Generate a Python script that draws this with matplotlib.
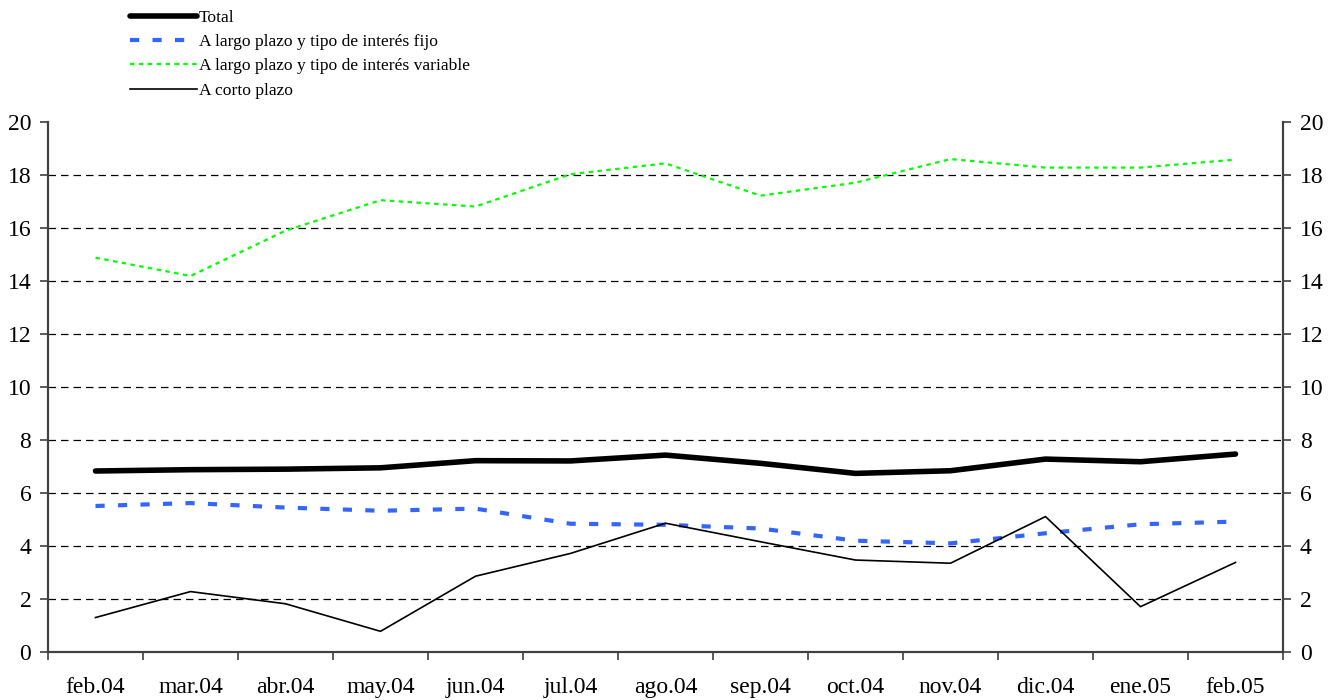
import numpy as np
import matplotlib.pyplot as plt

plt.rcParams['font.family'] = ['Liberation Serif', 'DejaVu Serif']

meses = ['feb.04', 'mar.04', 'abr.04', 'may.04', 'jun.04', 'jul.04', 'ago.04',
         'sep.04', 'oct.04', 'nov.04', 'dic.04', 'ene.05', 'feb.05']
total = [6.83, 6.88, 6.90, 6.95, 7.22, 7.21, 7.43, 7.12, 6.74, 6.84, 7.28, 7.18, 7.47]
largo_fijo = [5.51, 5.62, 5.45, 5.33, 5.41, 4.84, 4.80, 4.66, 4.20, 4.10, 4.48, 4.82, 4.92]
largo_variable = [14.88, 14.19, 15.90, 17.05, 16.81, 18.03, 18.44, 17.22, 17.71, 18.60, 18.28, 18.28, 18.58]
corto = [1.30, 2.28, 1.82, 0.78, 2.86, 3.72, 4.86, 4.16, 3.47, 3.35, 5.11, 1.71, 3.38]

x = np.arange(len(meses))
spine_col = '#404040'
fs = 17

fig = plt.figure(figsize=(13.39, 7.0), dpi=100)
ax = fig.add_axes([48 / 1339, 48 / 700, (1283 - 48) / 1339, (652 - 122) / 700])

# gridlines first, under the series
for yv in range(2, 20, 2):
    ax.axhline(yv, color='black', linestyle=(0, (6, 4)), linewidth=0.9, zorder=1)

ax.plot(x, total, color='black', linewidth=4, solid_capstyle='round', label='Total', zorder=3)
ax.plot(x, largo_fijo, color='#3366FF', linewidth=3, dashes=(2.2, 3.2),
        label='A largo plazo y tipo de interés fijo', zorder=3)
ax.plot(x, largo_variable, color='#00FF00', linewidth=1.6, dashes=(2, 2),
        label='A largo plazo y tipo de interés variable', zorder=3)
ax.plot(x, corto, color='black', linewidth=1.2, label='A corto plazo', zorder=3)

ax.set_xlim(-0.5, len(meses) - 0.5)
ax.set_ylim(0, 20)
ax.set_yticks(range(0, 21, 2))
ax.set_xticks(x)
ax.set_xticklabels(meses)
ax.set_xticks(np.arange(-0.5, len(meses), 1), minor=True)
ax.tick_params(axis='x', which='major', length=0, labelsize=fs, pad=18)
ax.tick_params(axis='x', which='minor', length=6, width=1.2, color=spine_col, direction='out')
ax.tick_params(axis='y', labelsize=fs, length=6, width=1.2, color=spine_col, direction='out', pad=6)

ax2 = ax.twinx()
ax2.set_ylim(0, 20)
ax2.set_yticks(range(0, 21, 2))
ax2.tick_params(axis='y', labelsize=fs, length=6, width=1.2, color=spine_col, direction='out', pad=6)

for a in (ax, ax2):
    a.spines['top'].set_visible(False)
    for s in ('left', 'right', 'bottom'):
        a.spines[s].set_color(spine_col)
        a.spines[s].set_linewidth(1.5)

handles, labels = ax.get_legend_handles_labels()
fig.legend(handles, labels, loc='upper left', bbox_to_anchor=(130 / 1339, 1 - 10 / 700),
           frameon=False, fontsize=12.6, handlelength=3.85, handletextpad=0.1,
           labelspacing=0.45, borderaxespad=0, borderpad=0)

fig.savefig('out.png', dpi=100)
